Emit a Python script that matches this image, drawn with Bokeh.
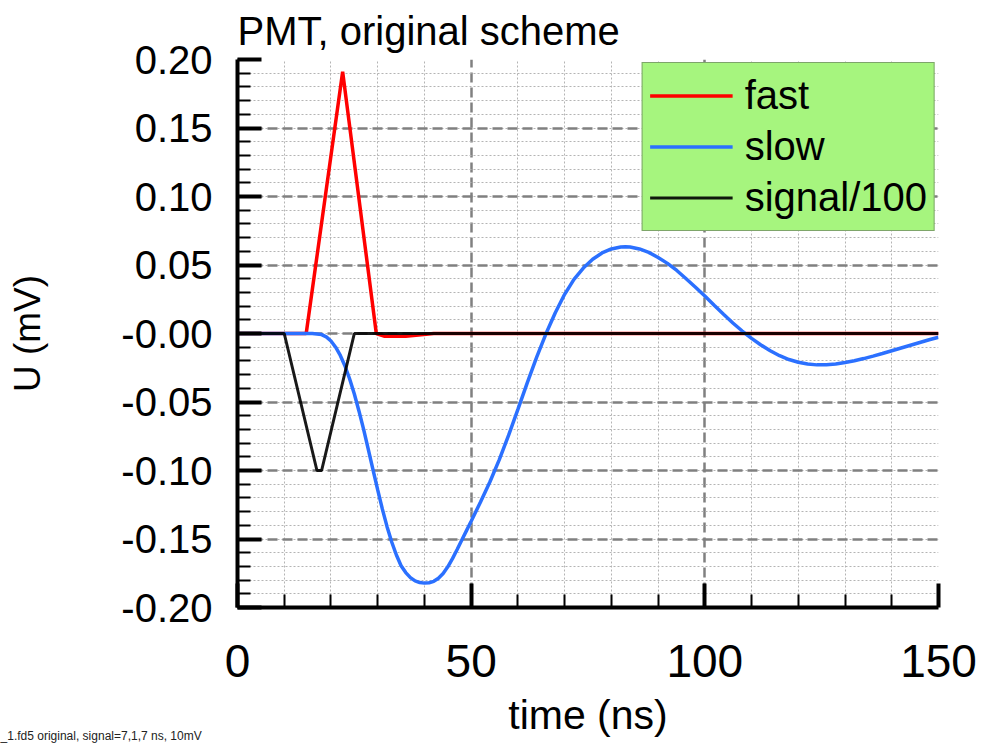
from bokeh.plotting import figure
from bokeh.models import FixedTicker, Legend, LegendItem, Label
from bokeh.embed import file_html
from bokeh.resources import INLINE

# ---- data: time in ns, amplitude in mV ----
fast_t = [0, 14.7, 22.5, 29.7, 31.5, 36.0, 42.0, 150]
fast_u = [0, 0, 0.191, 0, -0.002, -0.002, 0, 0]

slow_t = [0, 16, 18, 19, 20, 21, 22, 23, 24, 25,
          26, 27, 28, 29, 30, 31, 32, 33, 34, 35,
          36, 37, 38, 39, 40, 41, 42, 43, 44, 45,
          46, 47, 48, 49, 50, 52, 54, 56, 58, 60,
          62, 64, 66, 68, 70, 72, 74, 76, 78, 80,
          82, 83, 84, 86, 88, 90, 92, 94, 96, 98,
          100, 102, 104, 106, 108, 110, 112, 114, 116, 118,
          120, 122, 124, 126, 128, 130, 132, 134, 136, 138,
          140, 142, 144, 146, 148, 150]
slow_u = [0, 0, -0.0008, -0.0025, -0.0055, -0.0100, -0.0160, -0.0237, -0.0332, -0.0442,
          -0.0567, -0.0702, -0.0847, -0.0995, -0.1142, -0.1282, -0.1410, -0.1522, -0.1617, -0.1695,
          -0.1745, -0.1782, -0.1806, -0.1818, -0.1822, -0.1819, -0.1809, -0.1787, -0.1752, -0.1703,
          -0.1643, -0.1577, -0.1508, -0.1439, -0.1370, -0.1230, -0.1084, -0.0922, -0.0744, -0.0554,
          -0.0360, -0.0174, -0.0002, 0.0152, 0.0286, 0.0395, 0.0478, 0.0542, 0.0588, 0.0617,
          0.0632, 0.0634, 0.0632, 0.0617, 0.0592, 0.0555, 0.0512, 0.0460, 0.0400, 0.0338,
          0.0273, 0.0206, 0.0140, 0.0077, 0.0018, -0.0036, -0.0084, -0.0126, -0.0162, -0.0190,
          -0.0210, -0.0223, -0.0229, -0.0228, -0.0222, -0.0212, -0.0199, -0.0183, -0.0165, -0.0146,
          -0.0126, -0.0106, -0.0086, -0.0066, -0.0046, -0.0027]

# input pulse: 7 ns fall, 1 ns flat, 7 ns rise, 10 mV scaled by 1/100
signal_t = [0, 10, 17, 18, 25, 150]
signal_u = [0, 0, -0.10, -0.10, 0, 0]

x_ticks = [0, 50, 100, 150]
x_minor = [10, 20, 30, 40, 60, 70, 80, 90, 110, 120, 130, 140]
y_ticks = [0.20, 0.15, 0.10, 0.05, 0.0, -0.05, -0.10, -0.15, -0.20]
y_tick_labels = ["0.20", "0.15", "0.10", "0.05", "-0.00", "-0.05", "-0.10", "-0.15", "-0.20"]
y_minor = [round(-0.20 + 0.01 * i, 2) for i in range(41)]

FONT = "Liberation Sans"

p = figure(width=983, height=755, x_range=(0, 150), y_range=(-0.2, 0.2),
           output_backend="svg", toolbar_location=None,
           min_border_left=237, min_border_right=45,
           min_border_top=58, min_border_bottom=148)
p.outline_line_color = None
p.background_fill_color = "white"

p.title.text = "PMT, original scheme"
p.title.text_font = FONT
p.title.text_font_size = "40px"
p.title.text_font_style = "normal"
p.title.text_color = "black"
p.title.align = "left"
p.title.standoff = 13

xt = FixedTicker(ticks=x_ticks, minor_ticks=x_minor)
yt = FixedTicker(ticks=y_ticks, minor_ticks=y_minor)
p.xaxis.ticker = xt
p.yaxis.ticker = yt
p.xgrid.ticker = xt
p.ygrid.ticker = yt
p.yaxis.major_label_overrides = dict(zip(y_ticks, y_tick_labels))

for ax in (p.xaxis, p.yaxis):
    ax.axis_line_width = 4
    ax.axis_line_color = "black"
    ax.major_tick_line_width = 4
    ax.major_tick_line_color = "black"
    ax.minor_tick_line_width = 2
    ax.minor_tick_line_color = "black"
    ax.major_tick_in = 24
    ax.major_tick_out = 0
    ax.minor_tick_in = 13
    ax.minor_tick_out = 0
    ax.major_label_text_font = FONT
    ax.major_label_text_color = "black"
    ax.axis_label_text_font = FONT
    ax.axis_label_text_font_style = "normal"
    ax.axis_label_text_color = "black"

p.xaxis.axis_label = "time (ns)"
p.xaxis.major_label_text_font_size = "46px"
p.xaxis.axis_label_text_font_size = "41px"
p.xaxis.major_label_standoff = 37
p.xaxis.axis_label_standoff = 12

p.yaxis.axis_label = "U (mV)"
p.yaxis.major_label_text_font_size = "40px"
p.yaxis.axis_label_text_font_size = "37px"
p.yaxis.major_label_standoff = 25
p.yaxis.axis_label_standoff = 70

for g in (p.xgrid, p.ygrid):
    g.grid_line_color = "#808080"
    g.grid_line_width = 2.5
    g.grid_line_dash = "10 5"
    g.minor_grid_line_color = "#b4b4b4"
    g.minor_grid_line_width = 1
    g.minor_grid_line_dash = "2 2"

r_fast = p.line(fast_t, fast_u, line_color="#ff0000", line_width=3.5)
r_slow = p.line(slow_t, slow_u, line_color="#2b70ff", line_width=3.5)
r_sig = p.line(signal_t, signal_u, line_color="black", line_width=3, line_alpha=0.9)

legend = Legend(items=[LegendItem(label="fast", renderers=[r_fast]),
                       LegendItem(label="slow", renderers=[r_slow]),
                       LegendItem(label="signal/100", renderers=[r_sig])],
                location="top_right",
                background_fill_color="#a6f57e", background_fill_alpha=1,
                border_line_color="#555555", border_line_width=1.5,
                label_text_font=FONT, label_text_font_size="40px",
                label_text_color="black",
                glyph_width=83, glyph_height=51, label_height=51,
                spacing=0, padding=7, margin=3, label_standoff=12)
p.add_layout(legend)

# file note at the lower left corner of the canvas
caption = Label(x=-50.7, y=-0.294, x_units="data", y_units="data",
                text="_1.fd5 original, signal=7,1,7 ns, 10mV",
                text_font=FONT, text_font_size="12px", text_color="#222222",
                text_baseline="alphabetic", text_align="left")
p.add_layout(caption, "below")

open("out.html", "w").write(file_html(p, INLINE))
